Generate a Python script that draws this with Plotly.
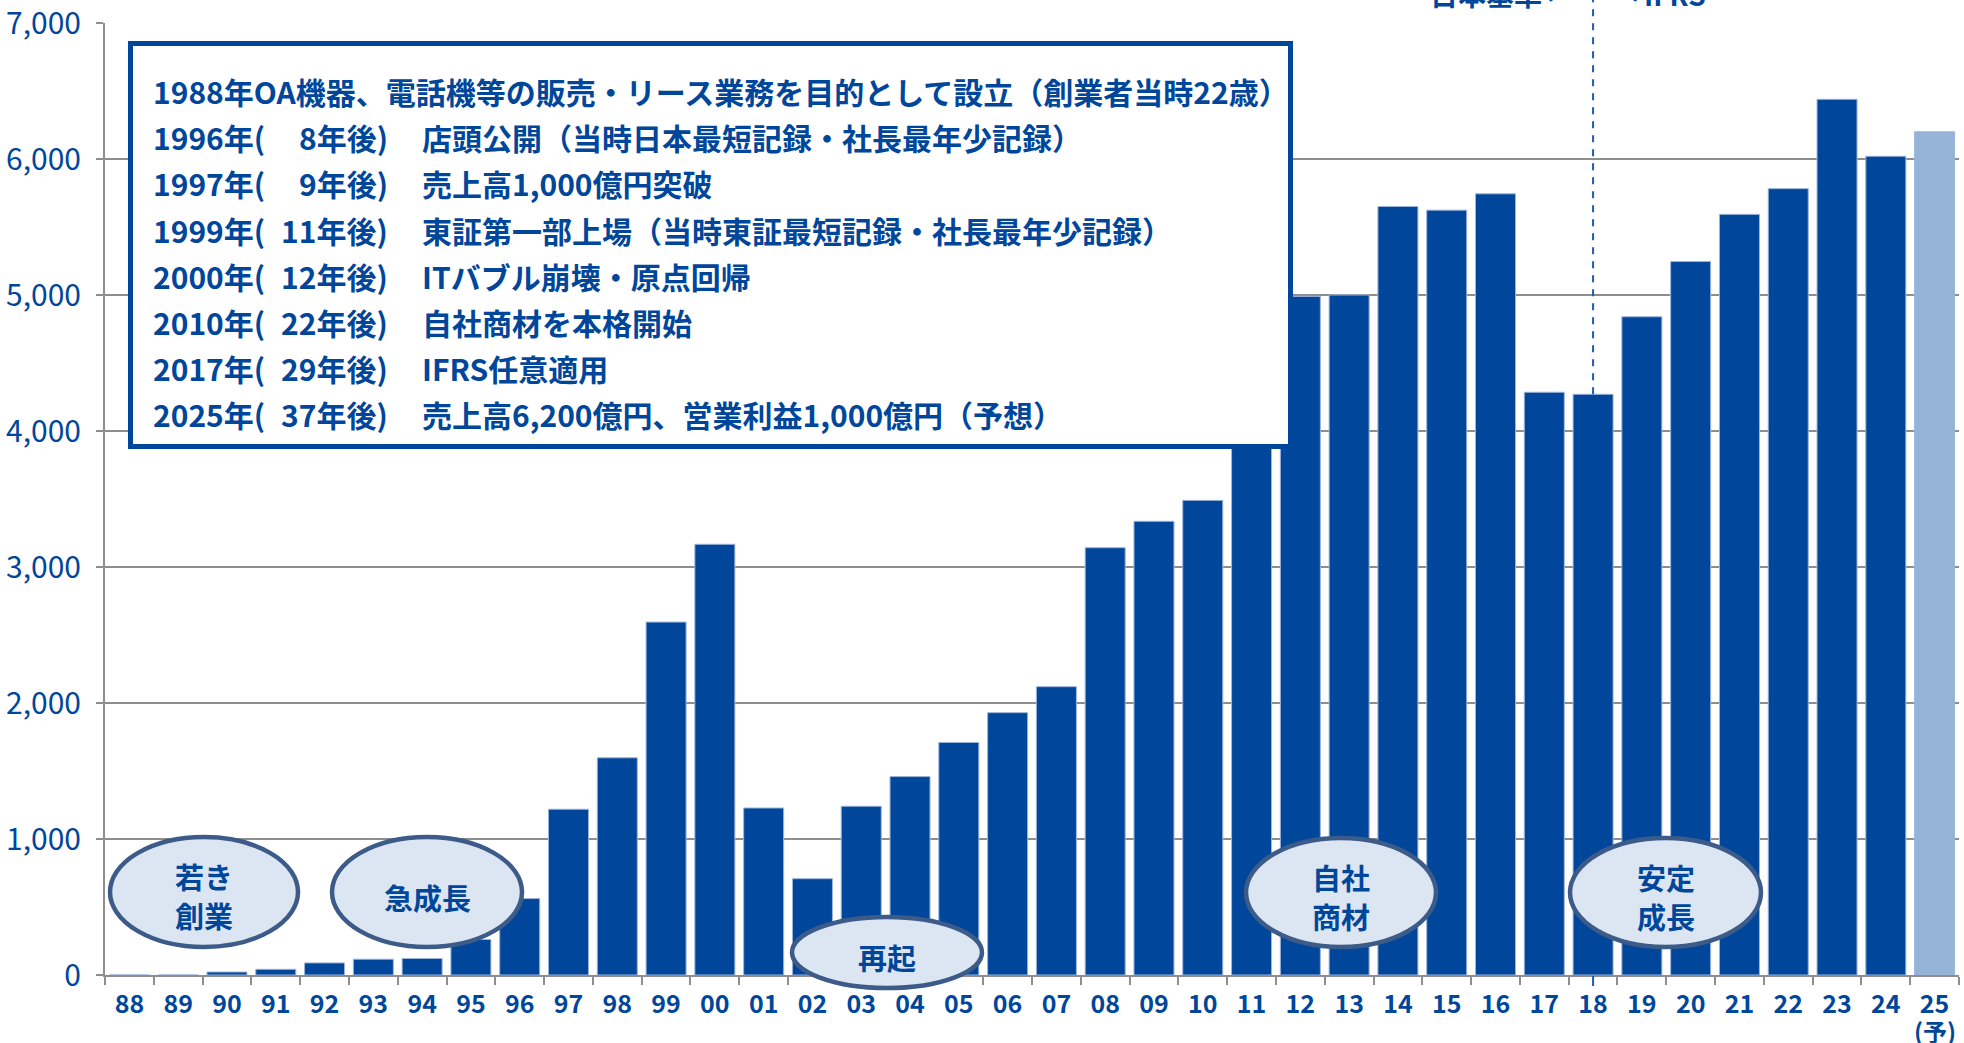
import plotly.graph_objects as go

# ---------------- data ----------------
years = ["88", "89", "90", "91", "92", "93", "94", "95", "96", "97", "98", "99",
         "00", "01", "02", "03", "04", "05", "06", "07", "08", "09", "10", "11",
         "12", "13", "14", "15", "16", "17", "18", "19", "20", "21", "22", "23",
         "24", "25"]
sales = [0, 0, 22, 42, 89, 116, 121, 261, 562, 1219, 1597, 2595,
         3167, 1228, 708, 1241, 1459, 1710, 1929, 2120, 3142, 3336, 3490, 4100,
         4990, 5000, 5651, 5624, 5744, 4285, 4270, 4840, 5246, 5593, 5782, 6439,
         6020, 6200]
forecast_year = "25"
forecast_label = "(予)"
ifrs_year = "18"
y_ticks = [0, 1000, 2000, 3000, 4000, 5000, 6000, 7000]

history_first = "1988年OA機器、電話機等の販売・リース業務を目的として設立（創業者当時22歳）"
history_years = ["1996年(", "1997年(", "1999年(", "2000年(", "2010年(", "2017年(", "2025年("]
history_elapsed = ["8年後)", "9年後)", "11年後)", "12年後)", "22年後)", "29年後)", "37年後)"]
history_text = ["店頭公開（当時日本最短記録・社長最年少記録）",
                "売上高1,000億円突破",
                "東証第一部上場（当時東証最短記録・社長最年少記録）",
                "ITバブル崩壊・原点回帰",
                "自社商材を本格開始",
                "IFRS任意適用",
                "売上高6,200億円、営業利益1,000億円（予想）"]

phase_labels = [["若き", "創業"], ["急成長"], ["再起"], ["自社", "商材"], ["安定", "成長"]]
left_std, right_std = "日本基準←", "→IFRS"

# ---------------- layout geometry ----------------
W, H = 1964, 1043
L, R, T, B = 105, 5, 23, 68
PW, PH = W - L - R, H - T - B
YMAX = 7000


def px(x):
    return (x - L) / PW


def py(y):
    return (H - B - y) / PH


BLUE = "#00469b"
LIGHT = "#95b3d7"
GRID = "#8e8e8e"
FONT = "Noto Sans CJK JP"

colors = [LIGHT if y == forecast_year else BLUE for y in years]

fig = go.Figure()
fig.add_trace(go.Bar(
    x=years, y=sales, marker=dict(color=colors, line=dict(width=1, color="#9db5dc")),
    hoverinfo="x+y", showlegend=False))

shapes = []
annotations = []
# text box
shapes.append(dict(type="rect", xref="paper", yref="paper",
                   x0=px(130.5), x1=px(1290.5), y0=py(446.5), y1=py(43.5),
                   fillcolor="white", line=dict(color=BLUE, width=5), layer="above"))
# IFRS dashed line
idx = years.index(ifrs_year)
shapes.append(dict(type="line", xref="x", yref="paper", x0=idx, x1=idx,
                   y0=sales[idx] / YMAX, y1=py(-5),
                   line=dict(color="#1b5bb0", width=2, dash="7px,7px"), layer="above"))
shapes.append(dict(type="line", xref="x", yref="paper", x0=idx, x1=idx,
                   y0=py(986), y1=py(976),
                   line=dict(color="#1b5bb0", width=2), layer="above"))

# forecast marker under the last tick label
fidx = years.index(forecast_year)
annotations.append(dict(xref="x", yref="paper", x=fidx, y=py(1030), text=forecast_label,
                        showarrow=False, xanchor="center", yanchor="middle", borderpad=0,
                        font=dict(family=FONT, size=24, color=BLUE, weight="bold")))

# phase ellipses (pixel boxes) and their line centres
ell_boxes = [(110, 298, 837, 947), (332, 522, 837, 947), (792, 982, 917, 988),
             (1246, 1436, 838, 947), (1570, 1761, 838, 947)]
ell_lines = [[876, 915], [897], [957], [877, 916], [877, 916]]
for (x0, x1, y0, y1), labs, ys in zip(ell_boxes, phase_labels, ell_lines):
    shapes.append(dict(type="circle", xref="paper", yref="paper",
                       x0=px(x0), x1=px(x1), y0=py(y1), y1=py(y0),
                       fillcolor="#dce6f2", line=dict(color="#3d5b89", width=4.5),
                       layer="above"))
    for lab, yc in zip(labs, ys):
        annotations.append(dict(xref="paper", yref="paper", x=px((x0 + x1) / 2),
                                y=py(yc), text=lab, showarrow=False, borderpad=0,
                                xanchor="center", yanchor="middle",
                                font=dict(family=FONT, size=29, color=BLUE,
                                          weight="bold")))

# history text
TS = 30
LINE0, STEP = 91, 46.2
annotations.append(dict(xref="paper", yref="paper", x=px(151), y=py(LINE0),
                        text=history_first, showarrow=False, xanchor="left",
                        yanchor="middle",
                        font=dict(family=FONT, size=TS, color=BLUE, weight="bold")))
for i, (a, b, c) in enumerate(zip(history_years, history_elapsed, history_text)):
    yc = LINE0 + STEP * (i + 1)
    annotations.append(dict(xref="paper", yref="paper", x=px(151), y=py(yc), text=a,
                            showarrow=False, xanchor="left", yanchor="middle",
                            font=dict(family=FONT, size=TS, color=BLUE, weight="bold")))
    annotations.append(dict(xref="paper", yref="paper", x=px(390), y=py(yc), text=b,
                            showarrow=False, xanchor="right", yanchor="middle",
                            font=dict(family=FONT, size=TS, color=BLUE, weight="bold")))
    annotations.append(dict(xref="paper", yref="paper", x=px(420), y=py(yc), text=c,
                            showarrow=False, xanchor="left", yanchor="middle",
                            font=dict(family=FONT, size=TS, color=BLUE, weight="bold")))

# accounting standard labels (partly above the page)
annotations.append(dict(xref="paper", yref="paper", x=px(1572), y=py(-6), text=left_std,
                        showarrow=False, xanchor="right", yanchor="middle",
                        font=dict(family=FONT, size=28, color=BLUE, weight="bold")))
annotations.append(dict(xref="paper", yref="paper", x=px(1614), y=py(-6), text=right_std,
                        showarrow=False, xanchor="left", yanchor="middle",
                        font=dict(family=FONT, size=28, color=BLUE, weight="bold")))

fig.update_layout(
    width=W, height=H, autosize=False,
    margin=dict(l=L, r=R, t=T, b=B, pad=0),
    paper_bgcolor="white", plot_bgcolor="white",
    bargap=0.18,
    shapes=shapes, annotations=annotations,
    xaxis=dict(type="category", tickmode="array", tickvals=years, ticktext=years,
               ticks="outside", tickson="boundaries", ticklen=8, tickwidth=2,
               tickcolor=GRID, showline=True, linecolor=GRID, linewidth=2,
               showgrid=False, ticklabelstandoff=6, tickangle=0, automargin=False,
               tickfont=dict(family=FONT, size=25, color=BLUE, weight="bold")),
    yaxis=dict(range=[0, YMAX], tickmode="array", tickvals=y_ticks, tickformat=",d",
               ticks="outside", ticklen=7, tickwidth=2, tickcolor=GRID,
               showline=True, linecolor=GRID, linewidth=2, automargin=False,
               showgrid=True, gridcolor=GRID, gridwidth=2, zeroline=False,
               ticklabelstandoff=9, ticklabeloverflow="allow",
               tickfont=dict(family=FONT, size=30, color=BLUE)),
)

fig.write_html("out.html")
